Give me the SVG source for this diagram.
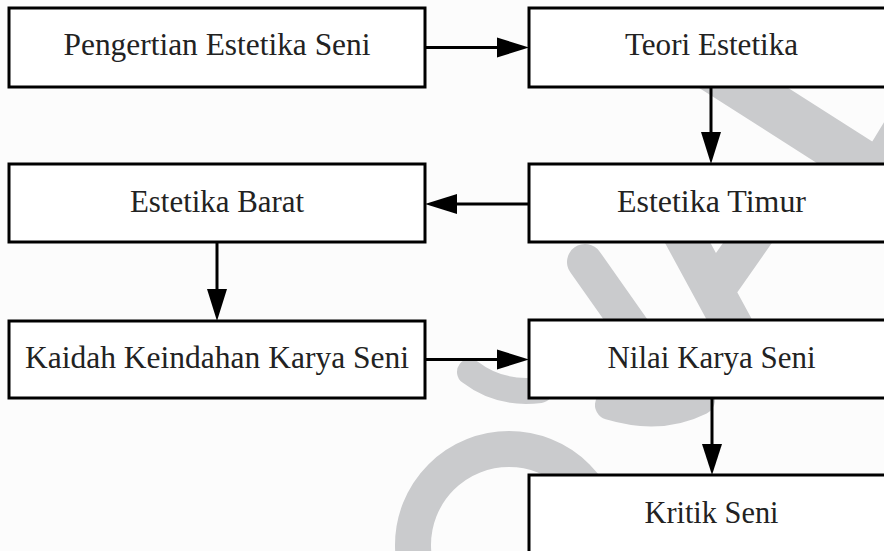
<svg xmlns="http://www.w3.org/2000/svg" width="884" height="551" viewBox="0 0 884 551">
  <style>
    .box { fill: #ffffff; stroke: #000000; stroke-width: 3; }
    .lbl { font-family: "Liberation Serif", "Times New Roman", serif; font-size: 31px; fill: #222222; text-anchor: middle; }
    .edge { stroke: #000000; stroke-width: 3; fill: none; }
    .head { fill: #000000; }
    .wm { stroke: #cacbcd; fill: none; }
  </style>
  <rect x="0" y="0" width="884" height="551" fill="#fcfcfc"/>
  <g id="watermark">
    <path class="wm" d="M 700 60 L 880 175 L 950 60" stroke-width="48" stroke-linejoin="miter"/>
    <path class="wm" d="M 585 262 L 640 340" stroke-width="36" stroke-linecap="round"/>
    <path class="wm" d="M 678 225 L 735 330 M 760 225 L 718 285" stroke-width="40"/>
    <path class="wm" d="M 700 400 Q 660 420 610 405" stroke-width="30" stroke-linecap="round"/>
    <circle class="wm" cx="509" cy="545" r="96" stroke-width="36"/>
    <path class="wm" d="M 470 372 Q 500 395 540 390" stroke-width="26" stroke-linecap="round"/>
  </g>
  <g id="n1">
    <rect class="box" x="9" y="8" width="416" height="79"/>
    <text class="lbl" x="217" y="55" textLength="307" lengthAdjust="spacingAndGlyphs">Pengertian Estetika Seni</text>
  </g>
  <g id="n2">
    <rect class="box" x="529" y="8" width="380" height="79"/>
    <text class="lbl" x="711.5" y="55" textLength="173" lengthAdjust="spacingAndGlyphs">Teori Estetika</text>
  </g>
  <g id="n3">
    <rect class="box" x="529" y="164" width="380" height="78"/>
    <text class="lbl" x="711.5" y="212" textLength="189" lengthAdjust="spacingAndGlyphs">Estetika Timur</text>
  </g>
  <g id="n4">
    <rect class="box" x="9" y="164" width="416" height="78"/>
    <text class="lbl" x="217" y="212" textLength="174" lengthAdjust="spacingAndGlyphs">Estetika Barat</text>
  </g>
  <g id="n5">
    <rect class="box" x="9" y="321" width="416" height="77"/>
    <text class="lbl" x="217" y="368" textLength="384" lengthAdjust="spacingAndGlyphs">Kaidah Keindahan Karya Seni</text>
  </g>
  <g id="n6">
    <rect class="box" x="529" y="320" width="380" height="78"/>
    <text class="lbl" x="711.5" y="368" textLength="208" lengthAdjust="spacingAndGlyphs">Nilai Karya Seni</text>
  </g>
  <g id="n7">
    <rect class="box" x="529" y="475" width="380" height="90"/>
    <text class="lbl" x="711.5" y="523" textLength="134" lengthAdjust="spacingAndGlyphs">Kritik Seni</text>
  </g>
  <g id="connectors">
    <line class="edge" x1="425" y1="47.5" x2="498" y2="47.5"/>
    <polygon class="head" points="497,37.5 529,47.5 497,57.5"/>
    <line class="edge" x1="711" y1="87" x2="711" y2="133"/>
    <polygon class="head" points="701,132 711,164 721,132"/>
    <line class="edge" x1="529" y1="204" x2="456" y2="204"/>
    <polygon class="head" points="457,194 425,204 457,214"/>
    <line class="edge" x1="217" y1="242" x2="217" y2="290"/>
    <polygon class="head" points="207,289 217,321 227,289"/>
    <line class="edge" x1="425" y1="359.5" x2="498" y2="359.5"/>
    <polygon class="head" points="497,349.5 529,359.5 497,369.5"/>
    <line class="edge" x1="712" y1="398" x2="712" y2="445"/>
    <polygon class="head" points="702,444 712,475 722,444"/>
  </g>
</svg>
